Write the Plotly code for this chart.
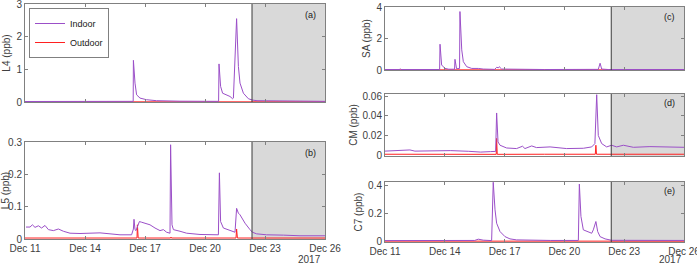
import pandas as pd
import plotly.graph_objects as go

START = "2017-12-11"
SHADE_START_DAY = 11.35
END_DAY = 15

# ---- Panel (a) L4 ----
l4_in_day = [0, 1.5, 2, 3.5, 4.8, 5.3, 5.41, 5.42, 5.5, 5.58, 5.75, 6.08, 6.58, 7.75, 8.5, 9.68, 9.7, 9.78,
             9.88, 10.0, 10.25, 10.38, 10.42, 10.58, 10.67, 10.75, 10.92, 11.17, 11.37, 11.6, 12.5, 14, 15]
l4_in_val = [0.015, 0.02, 0.015, 0.02, 0.025, 0.02, 0.02, 1.28, 0.58, 0.22, 0.12, 0.07, 0.04, 0.025, 0.02, 0.02,
             1.17, 0.48, 0.27, 0.24, 0.17, 0.1, 0.12, 2.56, 1.09, 0.58, 0.27, 0.1, 0.06, 0.04, 0.03, 0.025, 0.02]
l4_out_day = [0, 5, 10, 15]
l4_out_val = [0.005, 0.006, 0.005, 0.005]

# ---- Panel (b) L5 ----
l5_in_day = [0.05, 0.25, 0.37, 0.5, 0.67, 0.83, 1.0, 1.17, 1.42, 1.67, 1.92, 2.25, 2.75, 3.42, 3.75, 4.25,
             4.75, 5.33, 5.42, 5.45, 5.5, 5.55, 5.62, 5.72, 5.83, 6.08, 6.25, 6.5, 6.75, 6.92, 7.08, 7.25,
             7.28, 7.35, 7.42, 7.75, 8.08, 8.75, 9.67, 9.72, 9.78, 9.92, 10.25, 10.5, 10.58, 10.67, 10.75,
             11.0, 11.25, 11.37, 11.58, 12.08, 12.92, 13.75, 15]
l5_in_val = [0.037, 0.037, 0.044, 0.036, 0.041, 0.034, 0.042, 0.029, 0.026, 0.031, 0.024, 0.018, 0.017,
             0.017, 0.019, 0.016, 0.013, 0.013, 0.031, 0.061, 0.029, 0.026, 0.039, 0.054, 0.052, 0.046,
             0.044, 0.034, 0.026, 0.029, 0.021, 0.018, 0.292, 0.044, 0.029, 0.024, 0.018, 0.014, 0.013,
             0.205, 0.054, 0.034, 0.026, 0.021, 0.095, 0.08, 0.075, 0.049, 0.029, 0.021, 0.016, 0.013,
             0.012, 0.010, 0.010]
l5_out_day = [0, 3, 5.6, 5.62, 5.66, 7.28, 7.3, 7.32, 10.55, 10.58, 10.62, 15]
l5_out_val = [0.003, 0.003, 0.003, 0.044, 0.003, 0.003, 0.006, 0.003, 0.003, 0.031, 0.003, 0.003]

# ---- Panel (c) SA ----
sa_in_day = [0, 0.75, 0.77, 0.8, 2.74, 2.76, 2.84, 3.01, 3.2, 3.49, 3.51, 3.59, 3.74, 3.76, 3.85, 3.93,
             4.1, 4.35, 4.68, 4.93, 5.5, 5.6, 5.69, 5.73, 5.85, 6.5, 8, 10.7, 10.79, 10.87, 11.2, 15]
sa_in_val = [0.03, 0.03, 0.08, 0.03, 0.03, 1.64, 0.32, 0.1, 0.05, 0.05, 0.68, 0.08, 0.1, 3.72, 1.28, 0.53,
             0.21, 0.1, 0.1, 0.06, 0.04, 0.17, 0.14, 0.21, 0.06, 0.04, 0.03, 0.04, 0.43, 0.06, 0.03, 0.03]
sa_out_day = [0, 5, 10, 15]
sa_out_val = [0.01, 0.01, 0.01, 0.01]

# ---- Panel (d) CM ----
cm_in_day = [0, 0.5, 1.25, 1.5, 2.1, 2.5, 3.3, 4.2, 4.8, 5.3, 5.55, 5.6, 5.67, 5.77, 6.1, 6.6, 6.9, 7.02,
             7.36, 7.6, 8.28, 9.11, 9.95, 10.37, 10.53, 10.62, 10.7, 10.87, 11.12, 11.37, 11.62, 11.96,
             12.46, 13.29, 14.13, 15]
cm_in_val = [0.004, 0.0045, 0.0052, 0.004, 0.0041, 0.0048, 0.0045, 0.0038, 0.003, 0.0035, 0.0037, 0.043,
             0.0134, 0.01, 0.0072, 0.0066, 0.009, 0.0066, 0.0093, 0.0076, 0.0083, 0.0066, 0.0069, 0.0083,
             0.0117, 0.0617, 0.02, 0.0117, 0.0083, 0.01, 0.0083, 0.01, 0.0079, 0.0086, 0.0083, 0.0079]
cm_out_day = [0, 1.0, 3.1, 4.6, 5.1, 5.5, 5.58, 5.6, 5.63, 8.0, 10.55, 10.58, 10.61, 15]
cm_out_val = [0.0008, 0.0007, 0.0009, 0.0003, 0.0, 0.0002, 0.0007, 0.017, 0.0007, 0.0008, 0.0008, 0.01,
              0.0008, 0.0008]

# ---- Panel (e) C7 ----
c7_in_day = [0, 2, 4.5, 4.68, 4.93, 5.35, 5.43, 5.52, 5.6, 5.77, 6.02, 6.27, 6.6, 8.3, 9.7, 9.75, 9.83,
             9.95, 10.2, 10.37, 10.45, 10.58, 10.67, 10.79, 11.04, 11.37, 15]
c7_in_val = [0.007, 0.008, 0.008, 0.017, 0.01, 0.007, 0.42, 0.225, 0.13, 0.071, 0.035, 0.019, 0.012, 0.008,
             0.008, 0.407, 0.178, 0.083, 0.071, 0.059, 0.083, 0.142, 0.071, 0.035, 0.019, 0.009, 0.008]
c7_out_day = [0, 5, 10, 15]
c7_out_val = [0.003, 0.003, 0.003, 0.003]

y_titles = ["L4 (ppb)", "L5 (ppb)", "SA (ppb)", "CM (ppb)", "C7 (ppb)"]
panel_labels = ["(a)", "(b)", "(c)", "(d)", "(e)"]
y_ranges = [[0, 3.01], [0, 0.3005], [0, 4.01], [-0.001, 0.0624], [-0.003, 0.422]]
y_ticks = [[0, 1, 2, 3], [0, 0.1, 0.2, 0.3], [0, 2, 4], [0, 0.02, 0.04, 0.06], [0, 0.2, 0.4]]

W, H = 697, 265
# pixel boxes (left, top, right, bottom)
boxes = [(25, 4, 325, 102), (25, 142, 325, 239), (385, 7, 684, 70), (385, 94, 684, 156), (385, 182, 684, 242)]

IN_COLOR = "#9b4fc8"
OUT_COLOR = "#ff2020"
FRAME = "#808080"
TXT = "#404040"
FONT = "Liberation Sans, Arial, sans-serif"


def to_dt(days):
    return pd.Timestamp(START) + pd.to_timedelta(pd.Series(days), unit="D")


series = [
    (l4_in_day, l4_in_val, l4_out_day, l4_out_val),
    (l5_in_day, l5_in_val, l5_out_day, l5_out_val),
    (sa_in_day, sa_in_val, sa_out_day, sa_out_val),
    (cm_in_day, cm_in_val, cm_out_day, cm_out_val),
    (c7_in_day, c7_in_val, c7_out_day, c7_out_val),
]

fig = go.Figure()
shapes = []
annotations = []
t0 = pd.Timestamp(START)
shade_x0 = t0 + pd.Timedelta(days=SHADE_START_DAY)
x_end = t0 + pd.Timedelta(days=END_DAY)

for i, (di, vi, do, vo) in enumerate(series):
    n = i + 1
    xa = "x" if n == 1 else f"x{n}"
    ya = "y" if n == 1 else f"y{n}"
    fig.add_trace(go.Scatter(x=to_dt(do), y=vo, mode="lines", name="Outdoor", xaxis=xa, yaxis=ya,
                             line=dict(color=OUT_COLOR, width=1), showlegend=False))
    fig.add_trace(go.Scatter(x=to_dt(di), y=vi, mode="lines", name="Indoor", xaxis=xa, yaxis=ya,
                             line=dict(color=IN_COLOR, width=1), showlegend=(n == 1), legendrank=1))
    if n == 1:
        fig.add_trace(go.Scatter(x=[None], y=[None], mode="lines", name="Outdoor", xaxis=xa, yaxis=ya,
                                 line=dict(color=OUT_COLOR, width=1), showlegend=True, legendrank=2))
    l, t, r, b = boxes[i]
    xdom = [l / W, r / W]
    ydom = [1 - b / H, 1 - t / H]
    show_xlabels = n in (2, 5)
    xkey = "xaxis" if n == 1 else f"xaxis{n}"
    ykey = "yaxis" if n == 1 else f"yaxis{n}"
    fig.layout[xkey] = dict(
        domain=xdom, anchor=ya, range=[t0, x_end], type="date", automargin=False,
        tick0=t0, dtick=3 * 86400000, tickformat="%b %d", showticklabels=show_xlabels,
        ticklabeloverflow="allow",
        ticks="inside", ticklen=3, tickcolor=FRAME, showline=True, linecolor=FRAME, linewidth=1,
        mirror="ticks", showgrid=False, zeroline=False,
        tickfont=dict(size=10, color=TXT, family=FONT),
    )
    fig.layout[ykey] = dict(
        domain=ydom, anchor=xa, range=y_ranges[i], tickvals=y_ticks[i], automargin=False,
        ticklabeloverflow="allow",
        ticks="inside", ticklen=3, tickcolor=FRAME, showline=True, linecolor=FRAME, linewidth=1,
        mirror="ticks", showgrid=False, zeroline=False,
        tickfont=dict(size=10, color=TXT, family=FONT),
        title=dict(text=y_titles[i], font=dict(size=10, color=TXT, family=FONT), standoff=3),
    )
    xref = "x" if n == 1 else f"x{n}"
    yref_dom = ("y" if n == 1 else f"y{n}") + " domain"
    shapes.append(dict(type="rect", xref=xref, yref=yref_dom, x0=shade_x0, x1=x_end, y0=0, y1=1,
                       fillcolor="#d9d9d9", line=dict(width=0), layer="below"))
    shapes.append(dict(type="line", xref=xref, yref=yref_dom, x0=shade_x0, x1=shade_x0, y0=0, y1=1,
                       line=dict(color="#3a3a3a", width=1), layer="above"))
    annotations.append(dict(text=panel_labels[i], xref=f"{xref} domain", yref=yref_dom, x=0.975, y=0.96,
                            xanchor="right", yanchor="top", showarrow=False,
                            font=dict(size=9, color="#202020", family=FONT)))

annotations.append(dict(text="2017", xref="paper", yref="paper", x=309 / W, y=1 - 259.5 / H,
                        xanchor="center", yanchor="middle", showarrow=False,
                        font=dict(size=10, color=TXT, family=FONT)))
annotations.append(dict(text="2017", xref="paper", yref="paper", x=670 / W, y=1 - 259.5 / H,
                        xanchor="center", yanchor="middle", showarrow=False,
                        font=dict(size=10, color=TXT, family=FONT)))

fig.update_layout(
    width=W, height=H, margin=dict(l=0, r=0, t=0, b=0),
    paper_bgcolor="white", plot_bgcolor="white",
    shapes=shapes, annotations=annotations,
    legend=dict(x=29 / W, y=1 - 8 / H, xanchor="left", yanchor="top",
                bordercolor=FRAME, borderwidth=1, bgcolor="white",
                font=dict(size=9, color="#202020", family=FONT),
                tracegroupgap=0, itemwidth=30),
    font=dict(family=FONT),
)

fig.write_html("out.html", config={"displayModeBar": False},
               post_script="document.body.style.margin='0';document.body.style.padding='0';"
                           "document.body.style.overflow='hidden';")
